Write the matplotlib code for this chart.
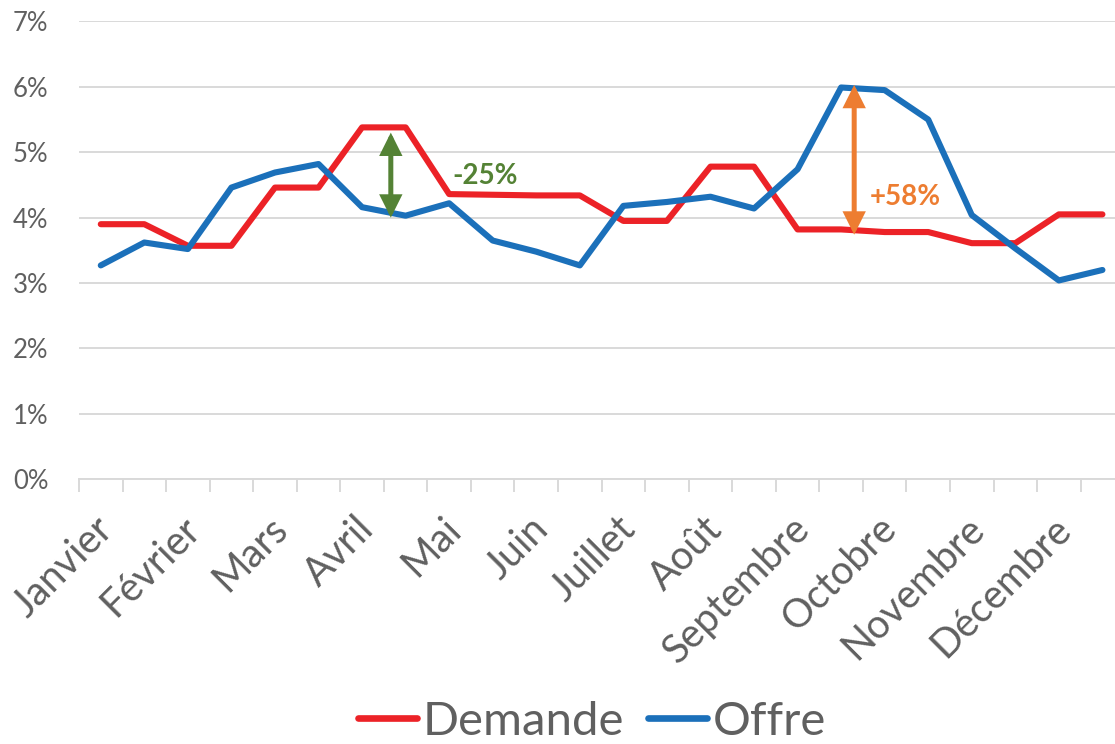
import numpy as np
import matplotlib
matplotlib.use("Agg")
import matplotlib.pyplot as plt
from matplotlib.patches import FancyArrowPatch
from matplotlib.lines import Line2D
import matplotlib.transforms as mtransforms

# ---- data ----
months = ["Janvier", "Février", "Mars", "Avril", "Mai", "Juin", "Juillet",
          "Août", "Septembre", "Octobre", "Novembre", "Décembre"]
demande = [3.90, 3.90, 3.57, 3.57, 4.46, 4.46, 5.38, 5.38, 4.36, 4.35, 4.34, 4.34,
           3.95, 3.95, 4.78, 4.78, 3.82, 3.82, 3.78, 3.78, 3.61, 3.61, 4.05, 4.05]
offre = [3.27, 3.62, 3.52, 4.46, 4.69, 4.82, 4.16, 4.03, 4.22, 3.65, 3.48, 3.27,
         4.18, 4.24, 4.32, 4.14, 4.74, 5.99, 5.95, 5.50, 4.04, 3.53, 3.04, 3.20]
series_names = ["Demande", "Offre"]
yticks = [0, 1, 2, 3, 4, 5, 6, 7]
# annotations: (x position, y bottom, y top, label, label x, label y)
ann_green = (6.66, 4.0, 5.30, "-25%", 8.82, 4.63)
ann_orange = (17.30, 3.74, 6.03, "+58%", 18.47, 4.31)

RED = "#EC2227"
BLUE = "#1B70BA"
GREEN = "#548235"
ORANGE = "#ED7D31"
GRID = "#D9D9D9"
TXT = "#606060"

plt.rcParams['font.family'] = ['Lato', 'DejaVu Sans']

fig = plt.figure(figsize=(11.15, 7.44), dpi=100)
ax = fig.add_axes([0.07085, 0.3558, 0.9374, 0.6154])

x = np.arange(len(demande))
l1, = ax.plot(x, demande, color=RED, lw=4.4, solid_joinstyle='round', solid_capstyle='round', zorder=3)
l2, = ax.plot(x, offre, color=BLUE, lw=4.4, solid_joinstyle='round', solid_capstyle='round', zorder=3)

ax.set_xlim(-0.5, len(demande) - 0.5)
ax.set_ylim(0, 7)
ax.set_yticks(yticks)
ax.set_yticklabels([f"{v}%" for v in yticks], fontsize=18.5, color=TXT)
ax.tick_params(axis='y', length=0, pad=22)
ax.yaxis.grid(True, color=GRID, lw=1.4)
ax.set_axisbelow(True)
for s in ['top', 'right', 'left']:
    ax.spines[s].set_visible(False)
ax.spines['bottom'].set_color(GRID)
ax.spines['bottom'].set_linewidth(1.4)

# category boundary ticks
ax.set_xticks(np.arange(-0.5, len(demande), 1.0))
ax.set_xticklabels([])
ax.tick_params(axis='x', which='major', length=9, width=1.4, color=GRID, direction='out')
# month labels
ax.set_xticks(np.arange(0, len(demande), 2), minor=True)
ax.set_xticklabels(months, minor=True, fontsize=28.5, color=TXT)
ax.tick_params(axis='x', which='minor', length=0, pad=22)
offset = mtransforms.ScaledTranslation(-7 / 100, 0, fig.dpi_scale_trans)
for lbl in ax.get_xticklabels(minor=True):
    lbl.set_rotation(45)
    lbl.set_ha('right')
    lbl.set_va('top')
    lbl.set_rotation_mode('anchor')
    lbl.set_transform(lbl.get_transform() + offset)

# arrows
for (xa, yb, yt, txt, tx, ty), col in [(ann_green, GREEN), (ann_orange, ORANGE)]:
    arr = FancyArrowPatch((xa, yb), (xa, yt), arrowstyle='<|-|>,head_length=11,head_width=5.5',
                          mutation_scale=1, lw=3.6, color=col, shrinkA=0, shrinkB=0, zorder=4,
                          joinstyle='miter')
    ax.add_patch(arr)
    ax.text(tx, ty, txt, color=col, fontsize=20, fontweight='bold', ha='center', va='center', zorder=5)

handles = [Line2D([], [], color=RED, lw=4.8, solid_capstyle='round'),
           Line2D([], [], color=BLUE, lw=4.8, solid_capstyle='round')]
fig.legend(handles, series_names, loc='lower center', bbox_to_anchor=(0.531, 0.002), ncol=2,
           frameon=False, fontsize=34, handlelength=1.25, handletextpad=0.12,
           columnspacing=0.5, labelcolor=TXT, borderaxespad=0, borderpad=0)

fig.savefig("out.png", dpi=100)
